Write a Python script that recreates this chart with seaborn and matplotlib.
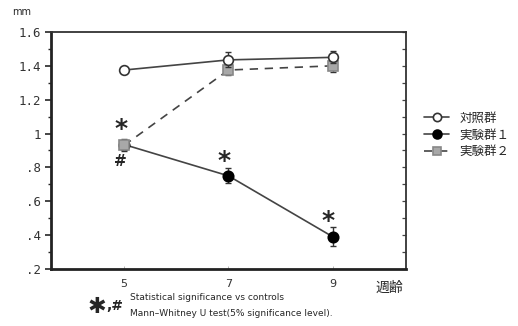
import matplotlib
matplotlib.use("Agg")
import matplotlib.pyplot as plt
from matplotlib.ticker import MultipleLocator, FixedLocator, NullFormatter
import seaborn as sns
import pandas as pd

weeks = [5, 7, 9]
control = [1.375, 1.435, 1.45]
control_err = [0.0, 0.045, 0.035]
group1 = [0.935, 0.75, 0.39]
group1_err = [0.0, 0.045, 0.055]
group2 = [0.93, 1.375, 1.40]
group2_err = [0.035, 0.03, 0.035]
series_names = ["対照群", "実験群１", "実験群２"]
ytick_vals = [0.2, 0.4, 0.6, 0.8, 1.0, 1.2, 1.4, 1.6]
ytick_labels = [".2", ".4", ".6", ".8", "1", "1.2", "1.4", "1.6"]

sns.set_theme(style="white")
plt.rcParams["font.family"] = ["Noto Sans CJK JP", "DejaVu Sans"]

df = pd.DataFrame({
    "week": weeks * 3,
    "value": control + group1 + group2,
    "err": control_err + group1_err + group2_err,
    "group": [series_names[0]] * 3 + [series_names[1]] * 3 + [series_names[2]] * 3,
})

fig = plt.figure(figsize=(5.18, 3.26), dpi=100)
ax = fig.add_axes([0.0985, 0.175, 0.685, 0.727])

styles = {
    series_names[0]: dict(color="#444444", ls="-", marker="o", mfc="white", mec="#333333", ms=7, z=6),
    series_names[1]: dict(color="#444444", ls="-", marker="o", mfc="black", mec="black", ms=7.5, z=3),
    series_names[2]: dict(color="#444444", ls=(0, (5, 4)), marker="s", mfc="#a8a8a8", mec="#888888", ms=6.5, z=4.5),
}

for name in series_names:
    st = styles[name]
    sub = df[df["group"] == name]
    sns.lineplot(data=sub, x="week", y="value", ax=ax, color=st["color"], linestyle=st["ls"],
                 marker=st["marker"], markerfacecolor=st["mfc"], markeredgecolor=st["mec"],
                 markersize=st["ms"], markeredgewidth=1.2, linewidth=1.2, label=name,
                 zorder=st["z"], errorbar=None)
    ax.errorbar(sub["week"], sub["value"], yerr=sub["err"], fmt="none", ecolor="#333333",
                elinewidth=1.0, capsize=2.5, capthick=1.0, zorder=st["z"] - 0.3)

ax.set_xlim(3.6, 10.4)
ax.set_ylim(0.2, 1.6)
ax.xaxis.set_major_locator(FixedLocator(weeks))
ax.set_xticklabels([str(w) for w in weeks], fontsize=8, color="#333333",
                   family=["DejaVu Sans"])
ax.yaxis.set_major_locator(FixedLocator(ytick_vals))
ax.set_yticklabels(ytick_labels, fontsize=9, color="#333333", family=["DejaVu Sans Mono"])
ax.yaxis.set_minor_locator(MultipleLocator(0.1))
ax.tick_params(axis="y", which="major", direction="out", length=4, width=1.2, left=True, right=False, pad=3)
ax.tick_params(axis="y", which="minor", direction="out", length=2.5, width=1.0, left=True, right=False)
ax.tick_params(axis="x", which="major", direction="in", length=2, width=0.6, bottom=True, colors="#aaaaaa",
               labelcolor="#333333", pad=7)
ax.set_xlabel("")
ax.set_ylabel("")
for sp in ["left", "bottom"]:
    ax.spines[sp].set_linewidth(2.0)
    ax.spines[sp].set_color("#222222")
for sp in ["top", "right"]:
    ax.spines[sp].set_linewidth(1.3)
    ax.spines[sp].set_color("#333333")

sec = ax.secondary_yaxis("right")
sec.spines["right"].set_visible(False)
sec.yaxis.set_major_locator(MultipleLocator(0.1))
sec.yaxis.set_major_formatter(NullFormatter())
sec.tick_params(axis="y", which="major", direction="in", length=3, width=0.9, colors="#444444")

# significance marks
ax.text(4.95, 0.955, "*", fontsize=18, ha="center", va="bottom", family=["DejaVu Sans"], weight="bold")
ax.text(4.92, 0.79, "#", fontsize=11, ha="center", va="bottom", family=["DejaVu Sans"], weight="bold")
ax.text(6.92, 0.765, "*", fontsize=18, ha="center", va="bottom", family=["DejaVu Sans"], weight="bold")
ax.text(8.9, 0.415, "*", fontsize=18, ha="center", va="bottom", family=["DejaVu Sans"], weight="bold")

leg = ax.legend(loc="center left", bbox_to_anchor=(1.02, 0.565), frameon=False, fontsize=9,
                handlelength=2.0, handletextpad=0.8, labelspacing=0.3, markerscale=0.85)

fig.text(12 / 518, 1 - 12 / 326, "mm", fontsize=7, ha="left", va="center", family=["DejaVu Sans"])
fig.text(375 / 518, 1 - 288 / 326, "週齢", fontsize=10, ha="left", va="center")
fig.text(88 / 518, 1 - 307 / 326, "✱", fontsize=16, ha="left", va="center", family=["DejaVu Sans"])
fig.text(106 / 518, 1 - 306 / 326, ",#", fontsize=10, ha="left", va="center", family=["DejaVu Sans"], weight="bold")
fig.text(130 / 518, 1 - 298 / 326, "Statistical significance vs controls", fontsize=6.5, ha="left", va="center",
         family=["DejaVu Sans"])
fig.text(130 / 518, 1 - 313 / 326, "Mann–Whitney U test(5% significance level).", fontsize=6.5, ha="left",
         va="center", family=["DejaVu Sans"])

fig.savefig("out.png", dpi=100)
